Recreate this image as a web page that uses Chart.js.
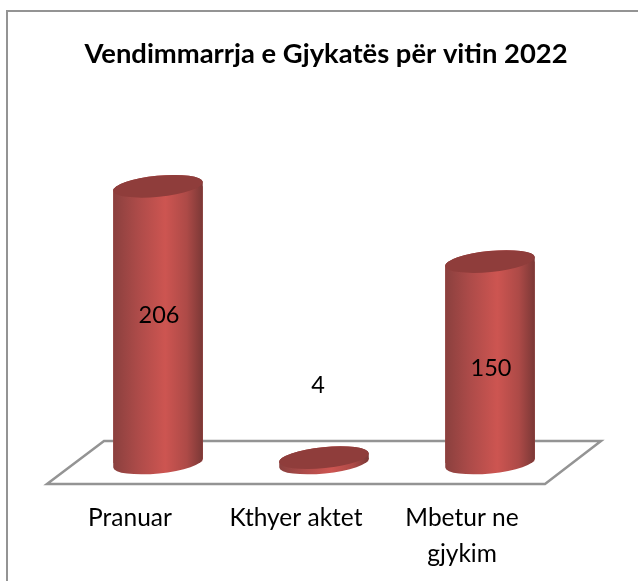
<!DOCTYPE html>
<html><head><meta charset="utf-8">
<style>html,body{margin:0;padding:0;background:#fff;overflow:hidden}#w{position:absolute;left:0;top:0;width:638px;height:581px}</style>
<script src="https://cdn.jsdelivr.net/npm/chart.js@4"></script>
</head><body><div id="w"><canvas id="c" width="638" height="581"></canvas></div>
<script>
const chartTitle = 'Vendimmarrja e Gjykatës për vitin 2022';
const categories = [['Pranuar'], ['Kthyer aktet'], ['Mbetur ne', 'gjykim']];
const values = [206, 4, 150];
const labelShift = [-9, -75, 6];

const TILT = -0.1, RY = 10.5;
function bodyGradient(ctx, x0, x1) {
  const g = ctx.createLinearGradient(x0, 0, x1, 0);
  g.addColorStop(0, '#8a403e');
  g.addColorStop(0.28, '#ad4b49');
  g.addColorStop(0.58, '#cd5551');
  g.addColorStop(0.82, '#ad4a47');
  g.addColorStop(1, '#7a3836');
  return g;
}
function silhouette(ctx, bar) {
  const rx = bar.width / 2;
  ctx.ellipse(bar.x, bar.base, rx, RY, TILT, 0, Math.PI);
  ctx.ellipse(bar.x, bar.y, rx, RY, TILT, Math.PI, Math.PI * 2);
  ctx.closePath();
}
const cylinderPlugin = {
  id: 'cylinder',
  afterLayout(chart) {
    chart.titleBlock.left += 2;
    chart.titleBlock.right += 2;
  },
  beforeDatasetsDraw(chart) {
    const { ctx, chartArea: a } = chart;
    ctx.save();
    ctx.strokeStyle = '#949494'; ctx.lineWidth = 2;
    ctx.strokeRect(7, 11, 640, 600);
    const b = a.bottom;
    ctx.lineWidth = 2.5;
    ctx.beginPath();
    ctx.moveTo(a.left - 28, b + 21);
    ctx.lineTo(a.left + 29, b - 22);
    ctx.lineTo(a.right + 28, b - 22);
    ctx.lineTo(a.right - 28, b + 21);
    ctx.closePath();
    ctx.stroke();
    ctx.restore();
    // the library's rectangles are cut to the cylinder outline
    ctx.save();
    ctx.beginPath();
    chart.getDatasetMeta(0).data.forEach(bar => { ctx.moveTo(bar.x + bar.width / 2, bar.base); silhouette(ctx, bar); });
    ctx.clip();
  },
  afterDatasetsDraw(chart) {
    const { ctx } = chart;
    ctx.restore();
    chart.getDatasetMeta(0).data.forEach((bar, i) => {
      const rx = bar.width / 2;
      ctx.save();
      ctx.fillStyle = bodyGradient(ctx, bar.x - rx, bar.x + rx);
      ctx.beginPath();
      silhouette(ctx, bar);
      ctx.fill();
      ctx.fillStyle = '#8f3d3b';
      ctx.beginPath();
      ctx.ellipse(bar.x, bar.y, rx, RY, TILT, 0, Math.PI * 2);
      ctx.fill();
      ctx.fillStyle = '#000';
      ctx.font = '23.5px Lato';
      ctx.textAlign = 'center';
      ctx.textBaseline = 'middle';
      const cx = i === 1 ? bar.x - 6 : bar.x + 1;
      ctx.fillText(String(values[i]), cx, (bar.y + bar.base) / 2 + labelShift[i]);
      ctx.restore();
    });
  }
};
new Chart(document.getElementById('c'), {
  type: 'bar',
  data: { labels: categories, datasets: [{
    data: values,
    barPercentage: 1,
    categoryPercentage: 0.542,
    backgroundColor: '#b04a47'
  }]},
  options: {
    responsive: false, animation: false,
    layout: { padding: { left: 75, right: 65, top: 26, bottom: 0 } },
    plugins: {
      legend: { display: false }, tooltip: { enabled: false },
      title: { display: true, text: chartTitle, color: '#000',
        font: { family: 'Lato', size: 27.4, weight: 'bold' }, padding: { top: 12, bottom: 16 } }
    },
    scales: {
      x: { grid: { display: false }, border: { display: false },
        afterFit(s) { s.height = 118; },
        ticks: { color: '#000', font: { family: 'Lato', size: 24.5, lineHeight: 1.47 }, padding: 29, labelOffset: -28, maxRotation: 0, minRotation: 0, autoSkip: false } },
      y: { display: false, min: 0, max: 280 }
    }
  },
  plugins: [cylinderPlugin]
});
</script></body></html>
